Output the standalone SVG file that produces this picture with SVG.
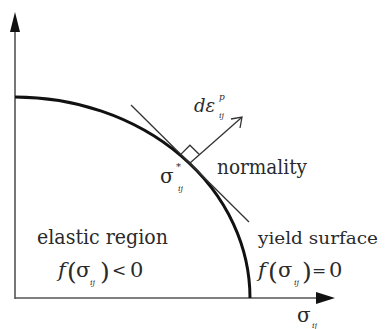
<svg xmlns="http://www.w3.org/2000/svg" width="386" height="329" viewBox="0 0 386 329">
<style>
.ax{stroke:#555;stroke-width:1.6;fill:none}
.lb text{fill:#2a2a2a}
.it{font-style:italic}
</style>
<rect width="386" height="329" fill="#fff"/>
<g id="connectors">
<line class="ax" x1="15" y1="299" x2="15" y2="28"/>
<polygon points="15,12 10,32 20,32" fill="#111"/>
<line class="ax" x1="15" y1="298" x2="318" y2="298"/>
<polygon points="335,298 316,292 316,304" fill="#111"/>
</g>
<g id="yield-surface">
<path d="M15,97 A235,201 0 0 1 250,298" fill="none" stroke="#111" stroke-width="3"/>
<line x1="131" y1="105" x2="249" y2="222" stroke="#333" stroke-width="1.3"/>
</g>
<g id="normal">
<line x1="190" y1="163" x2="241" y2="118" stroke="#333" stroke-width="1.3"/>
<polyline points="231,119 242,117 240,128" fill="none" stroke="#333" stroke-width="1.3"/>
<polyline points="180.8,154.4 189.9,145.2 199.1,154.3" fill="none" stroke="#333" stroke-width="1.3"/>
</g>
<g id="labels" class="lb" font-family="DejaVu Serif, serif">
<text class="it" x="194" y="112" font-size="18">dε</text>
<text class="it" x="219" y="100" font-size="9">p</text>
<text class="it" x="219" y="118" font-size="8">ij</text>
<text x="160" y="183" font-size="20">σ</text>
<text x="176" y="170" font-size="10">*</text>
<text class="it" x="178" y="191" font-size="8">ij</text>
<text x="217" y="174" font-size="20" textLength="90" lengthAdjust="spacingAndGlyphs">normality</text>
<text x="37" y="244" font-size="20" textLength="131" lengthAdjust="spacingAndGlyphs">elastic region</text>
<text x="258" y="244" font-size="17.5" textLength="120" lengthAdjust="spacingAndGlyphs">yield surface</text>
<text class="it" x="58" y="277" font-size="21">f</text>
<text x="67" y="280" font-size="25">(</text>
<text x="76" y="277" font-size="21">σ</text>
<text class="it" x="90" y="285" font-size="8">ij</text>
<text x="100" y="280" font-size="25">)</text>
<text x="112" y="276" font-size="17">&lt;</text>
<text x="130" y="277" font-size="21">0</text>
<text class="it" x="258" y="277" font-size="21">f</text>
<text x="268" y="280" font-size="25">(</text>
<text x="278" y="277" font-size="21">σ</text>
<text class="it" x="294" y="285" font-size="8">ij</text>
<text x="302" y="280" font-size="25">)</text>
<text x="312" y="276" font-size="17">=</text>
<text x="329" y="277" font-size="21">0</text>
<text x="297" y="322" font-size="20">σ</text>
<text class="it" x="312" y="328" font-size="8">ij</text>
</g>
</svg>
